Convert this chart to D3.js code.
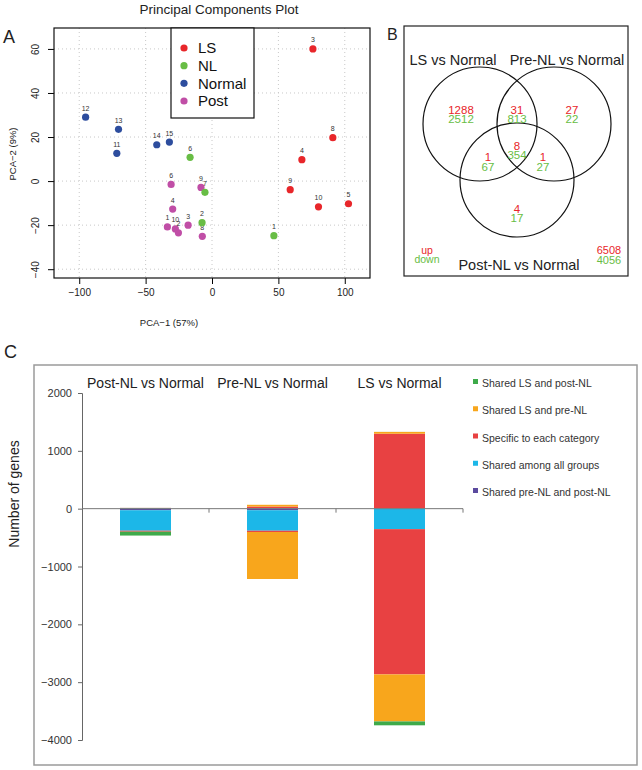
<!DOCTYPE html>
<html><head><meta charset="utf-8">
<script src="https://cdn.jsdelivr.net/npm/d3@7"></script>
<style>body{margin:0;background:#fff}svg text{font-family:"Liberation Sans",Arial,sans-serif}</style>
</head><body><svg id="c" width="642" height="770"></svg>
<script>
// ---------- Panel A data (PCA) ----------
const pcaGroups = ["LS", "NL", "Normal", "Post"];
const pcaColors = ["#e8262a", "#68bd45", "#2d4d9e", "#c04ea6"];
const lsPoints = [{id:"3",x:76,y:60},{id:"8",x:91,y:19.7},{id:"4",x:67.7,y:9.7},{id:"9",x:58.9,y:-3.9},{id:"10",x:80.2,y:-11.7},{id:"5",x:102.8,y:-10.3}];
const nlPoints = [{id:"6",x:-16.5,y:10.8},{id:"7",x:-5.3,y:-5.1},{id:"2",x:-7.5,y:-18.9},{id:"1",x:46.6,y:-24.8}];
const normalPoints = [{id:"12",x:-95.2,y:29},{id:"13",x:-70.4,y:23.5},{id:"14",x:-41.6,y:16.5},{id:"15",x:-32.1,y:17.7},{id:"11",x:-71.7,y:12.6}];
const postPoints = [{id:"6",x:-30.8,y:-1.5},{id:"9",x:-8.3,y:-2.9},{id:"4",x:-29.6,y:-12.7},{id:"1",x:-33.6,y:-20.8},{id:"10",x:-27.6,y:-21.7},{id:"2",x:-25.3,y:-23.5},{id:"3",x:-18,y:-20},{id:"8",x:-7.3,y:-25.1}];
const pcaXTicks = [-100, -50, 0, 50, 100];
const pcaYTicks = [-40, -20, 0, 20, 40, 60];

// ---------- Panel B data (Venn) ----------
const vennSets = ["LS vs Normal", "Pre-NL vs Normal", "Post-NL vs Normal"];
const vennRegions = ["LS", "LS&Pre", "Pre", "All", "LS&Post", "Pre&Post", "Post"];
const vennUp =   [1288, 31, 27, 8, 1, 1, 4];
const vennDown = [2512, 813, 22, 354, 67, 27, 17];
const vennTotalUp = 6508, vennTotalDown = 4056;

// ---------- Panel C data (stacked bars) ----------
const barCategories = ["Post-NL vs Normal", "Pre-NL vs Normal", "LS vs Normal"];
const barSeries = ["Shared pre-NL and post-NL", "Shared among all groups", "Specific to each category", "Shared LS and pre-NL", "Shared LS and post-NL"];
const barColors = ["#5b4a9e", "#1cb7e8", "#e84142", "#f8a61c", "#3eaa4a"];
const prePostUp = [1, 1, 0],    prePostDown = [27, 27, 0];
const allUp = [8, 8, 8],        allDown = [354, 354, 354];
const specificUp = [4, 27, 1288], specificDown = [17, 22, 2512];
const lsPreUp = [0, 31, 31],    lsPreDown = [0, 813, 813];
const lsPostUp = [1, 0, 1],     lsPostDown = [67, 0, 67];
const barYTicks = [2000, 1000, 0, -1000, -2000, -3000, -4000];

const svg = d3.select("#c");
const font = "Liberation Sans, Arial, sans-serif";

// ================= Panel A =================
(function(){
  const L = 54, R = 370, T = 28, B = 278;
  const x = d3.scaleLinear().domain([-119, 119]).range([L, R]);
  const y = d3.scaleLinear().domain([-44, 69.5]).range([B, T]);
  const g = svg.append("g");
  g.append("text").attr("x", 219).attr("y", 14).attr("text-anchor","middle").attr("font-size", 13.5).attr("fill","#222").text("Principal Components Plot");
  g.append("text").attr("x", 3).attr("y", 43).attr("font-size", 18).attr("fill","#222").text("A");
  // grid
  g.selectAll(".gx").data(pcaXTicks).join("line").attr("x1", d=>x(d)).attr("x2", d=>x(d)).attr("y1", T).attr("y2", B)
    .attr("stroke","#c8c8c8").attr("stroke-dasharray","1,3");
  g.selectAll(".gy").data(pcaYTicks).join("line").attr("y1", d=>y(d)).attr("y2", d=>y(d)).attr("x1", L).attr("x2", R)
    .attr("stroke","#c8c8c8").attr("stroke-dasharray","1,3");
  // axes
  const ax = g.append("g").attr("transform", `translate(0,${B})`).call(d3.axisBottom(x).tickValues(pcaXTicks).tickSize(6).tickPadding(5).tickFormat(d3.format("d")));
  ax.select(".domain").remove();
  ax.selectAll("text").attr("font-size", 10).attr("font-family", font).attr("fill","#222").text(d => d < 0 ? "\u2212" + Math.abs(d) : d);
  const ay = g.append("g").attr("transform", `translate(${L},0)`).call(d3.axisLeft(y).tickValues(pcaYTicks).tickSize(6).tickFormat(d3.format("d")));
  ay.select(".domain").remove();
  ay.selectAll("text").attr("font-size", 10).attr("font-family", font).attr("fill","#222")
    .text(d => d < 0 ? "\u2212" + Math.abs(d) : d)
    .attr("text-anchor","middle").attr("x", 0).attr("dy", 0)
    .attr("transform", "translate(-15,0) rotate(-90)");
  g.append("rect").attr("x", L).attr("y", T).attr("width", R-L).attr("height", B-T).attr("fill","none").attr("stroke","#111").attr("stroke-width",1.2);
  g.append("text").attr("x", 169).attr("y", 326).attr("text-anchor","middle").attr("font-size", 9.5).attr("fill","#222").text("PCA\u22121 (57%)");
  g.append("text").attr("transform","translate(16,154) rotate(-90)").attr("text-anchor","middle").attr("font-size", 9.5).attr("fill","#222").text("PCA\u22122 (9%)");
  // points
  const sets = [postPoints, normalPoints, lsPoints, nlPoints];
  const setColor = [pcaColors[3], pcaColors[2], pcaColors[0], pcaColors[1]];
  sets.forEach((pts, i) => {
    g.selectAll(null).data(pts).join("circle").attr("cx", d=>x(d.x)).attr("cy", d=>y(d.y)).attr("r", 3.6).attr("fill", setColor[i]);
    g.selectAll(null).data(pts).join("text").attr("x", d=>x(d.x)).attr("y", d=>y(d.y)-6.5).attr("text-anchor","middle")
      .attr("font-size", 7).attr("fill","#333").text(d=>d.id);
  });
  // legend
  const lg = g.append("g");
  lg.append("rect").attr("x", 171).attr("y", T).attr("width", 83).attr("height", 90).attr("fill","#fff").attr("stroke","#111").attr("stroke-width",1.2);
  const ly = d3.scalePoint().domain(pcaGroups).range([48, 101]);
  lg.selectAll(null).data(pcaGroups).join("circle").attr("cx", 184).attr("cy", d=>ly(d)).attr("r", 3.6).attr("fill", (d,i)=>pcaColors[i]);
  lg.selectAll(null).data(pcaGroups).join("text").attr("x", 198).attr("y", d=>ly(d)+5.3).attr("font-size", 15).attr("fill","#111").text(d=>d);
})();

// ================= Panel B =================
(function(){
  const g = svg.append("g");
  g.append("text").attr("x", 387).attr("y", 40).attr("font-size", 16).attr("fill","#222").text("B");
  g.append("rect").attr("x", 404).attr("y", 26).attr("width", 224).attr("height", 250).attr("fill","none").attr("stroke","#222").attr("stroke-width",1.2);
  const cx = 517, cy = 143, r = 57;
  const circles = [{x: cx-37, y: cy-19}, {x: cx+37, y: cy-19}, {x: cx, y: cy+37}];
  g.selectAll(null).data(circles).join("circle").attr("cx", d=>d.x).attr("cy", d=>d.y).attr("r", r)
    .attr("fill","none").attr("stroke","#111").attr("stroke-width",1.2);
  const titlePos = [{x: 453, y: 65}, {x: 567, y: 65}, {x: 519, y: 270}];
  g.selectAll(null).data(vennSets).join("text").attr("x", (d,i)=>titlePos[i].x).attr("y", (d,i)=>titlePos[i].y)
    .attr("text-anchor","middle").attr("font-size", 14.5).attr("fill","#222").text(d=>d);
  const regionPos = {"LS": [cx-56, 113.5], "LS&Pre": [cx, 113.5], "Pre": [cx+55, 113.5], "All": [cx, 149.5],
    "LS&Post": [cx-29, 161], "Pre&Post": [cx+26, 161], "Post": [cx, 212.5]};
  g.selectAll(null).data(vennRegions).join("text").attr("x", d=>regionPos[d][0]).attr("y", d=>regionPos[d][1])
    .attr("text-anchor","middle").attr("font-size", 11.5).attr("fill","#e8262a").text((d,i)=>vennUp[i]);
  g.selectAll(null).data(vennRegions).join("text").attr("x", d=>regionPos[d][0]).attr("y", d=>regionPos[d][1]+9.5)
    .attr("text-anchor","middle").attr("font-size", 11.5).attr("fill","#68bd45").text((d,i)=>vennDown[i]);
  g.append("text").attr("x", 427).attr("y", 253.5).attr("text-anchor","middle").attr("font-size", 10.5).attr("fill","#e8262a").text("up");
  g.append("text").attr("x", 427).attr("y", 263).attr("text-anchor","middle").attr("font-size", 10.5).attr("fill","#68bd45").text("down");
  g.append("text").attr("x", 609).attr("y", 254).attr("text-anchor","middle").attr("font-size", 11).attr("fill","#e8262a").text(vennTotalUp);
  g.append("text").attr("x", 609).attr("y", 263.5).attr("text-anchor","middle").attr("font-size", 11).attr("fill","#68bd45").text(vennTotalDown);
})();

// ================= Panel C =================
(function(){
  const g = svg.append("g");
  g.append("text").attr("x", 4).attr("y", 358).attr("font-size", 18).attr("fill","#222").text("C");
  g.append("rect").attr("x", 34).attr("y", 365).attr("width", 603).attr("height", 400).attr("fill","none").attr("stroke","#9a9a9a").attr("stroke-width",1.5);
  const x = d3.scaleBand().domain(barCategories).range([82, 463]).paddingInner(0).paddingOuter(0);
  const y = d3.scaleLinear().domain([-4000, 2000]).range([740, 393]);
  const ups = [prePostUp, allUp, specificUp, lsPreUp, lsPostUp];
  const downs = [prePostDown, allDown, specificDown, lsPreDown, lsPostDown];
  const rows = [];
  barCategories.forEach((c, ci) => {
    const up = {cat: c}, dn = {cat: c};
    barSeries.forEach((s, si) => { up[s] = ups[si][ci]; dn[s] = -downs[si][ci]; });
    rows.push(up, dn);
  });
  const stacked = d3.stack().keys(barSeries).offset(d3.stackOffsetDiverging)(rows);
  const bw = 51;
  stacked.forEach((layer, li) => {
    g.selectAll(null).data(layer.filter(d => d[1] !== d[0])).join("rect")
      .attr("x", d => x(d.data.cat) + x.bandwidth()/2 - bw/2).attr("width", bw)
      .attr("y", d => y(Math.max(d[0], d[1]))).attr("height", d => Math.abs(y(d[0]) - y(d[1])))
      .attr("fill", barColors[li]);
  });
  // y axis
  const ay = g.append("g").attr("transform","translate(82,0)").call(d3.axisLeft(y).tickValues(barYTicks).tickSize(4).tickPadding(6).tickFormat(d3.format("d")));
  ay.select(".domain").attr("stroke","#666");
  ay.selectAll(".tick line").attr("stroke","#666");
  ay.selectAll("text").attr("font-size", 11).attr("font-family", font).attr("fill","#333");
  // zero line & category ticks
  g.append("line").attr("x1", 82).attr("x2", 463).attr("y1", y(0)).attr("y2", y(0)).attr("stroke","#777").attr("stroke-width",1);
  g.selectAll(null).data(barCategories).join("line").attr("x1", d=>x(d)+x.bandwidth()).attr("x2", d=>x(d)+x.bandwidth())
    .attr("y1", y(0)).attr("y2", y(0)+4).attr("stroke","#777");
  // category titles
  g.selectAll(null).data(barCategories).join("text").attr("x", d=>x(d)+x.bandwidth()/2).attr("y", 388)
    .attr("text-anchor","middle").attr("font-size", 14).attr("fill","#222").text(d=>d);
  g.append("text").attr("transform","translate(19,494) rotate(-90)").attr("text-anchor","middle").attr("font-size", 14).attr("fill","#222").text("Number of genes");
  // legend
  const legOrder = barSeries.slice().reverse();
  const ly = d3.scalePoint().domain(legOrder).range([383, 492]);
  g.selectAll(null).data(legOrder).join("rect").attr("x", 473).attr("y", d=>ly(d)-4).attr("width", 5).attr("height", 5)
    .attr("fill", d => barColors[barSeries.indexOf(d)]);
  g.selectAll(null).data(legOrder).join("text").attr("x", 482).attr("y", d=>ly(d)+4).attr("font-size", 10.5).attr("fill","#333").text(d=>d);
})();
</script></body></html>
